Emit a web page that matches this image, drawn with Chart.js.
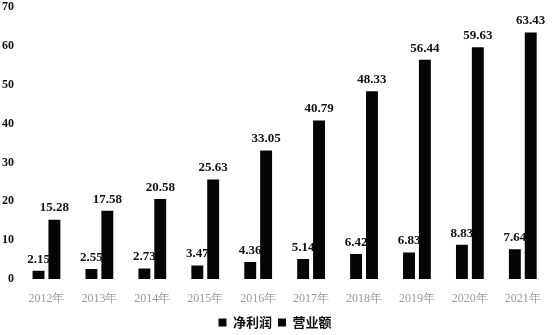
<!DOCTYPE html>
<html><head><meta charset="utf-8">
<script src="https://cdn.jsdelivr.net/npm/chart.js@4/dist/chart.umd.min.js"></script>
<style>html,body{margin:0;padding:0;background:#fff}#wrap{width:554px;height:335px}</style>
</head><body><div id="wrap"><canvas id="c"></canvas></div>
<script>
const categories = ["2012年","2013年","2014年","2015年","2016年","2017年","2018年","2019年","2020年","2021年"];
const netProfit = [2.15, 2.55, 2.73, 3.47, 4.36, 5.14, 6.42, 6.83, 8.83, 7.64];
const revenue = [15.28, 17.58, 20.58, 25.63, 33.05, 40.79, 48.33, 56.44, 59.63, 63.43];
const seriesNames = ["净利润", "营业额"];
const yTicks = [0, 10, 20, 30, 40, 50, 60, 70];

const labelPlugin = {
  id: 'barLabels',
  afterDatasetsDraw(chart) {
    const ctx = chart.ctx;
    ctx.save();
    ctx.font = 'bold 13px "Liberation Serif", "Times New Roman", serif';
    ctx.fillStyle = '#111';
    ctx.textAlign = 'center';
    ctx.textBaseline = 'bottom';
    chart.data.datasets.forEach((ds, i) => {
      chart.getDatasetMeta(i).data.forEach((bar, j) => {
        ctx.fillText(ds.data[j].toFixed(2), bar.x, bar.y - 5);
      });
    });
    ctx.restore();
  }
};

new Chart(document.getElementById('c'), {
  type: 'bar',
  data: {
    labels: categories,
    datasets: [
      { label: seriesNames[0], data: netProfit, backgroundColor: '#050505', barPercentage: 0.75, categoryPercentage: 0.6 },
      { label: seriesNames[1], data: revenue, backgroundColor: '#050505', barPercentage: 0.75, categoryPercentage: 0.6 }
    ]
  },
  options: {
    responsive: true,
    maintainAspectRatio: false,
    animation: false,
    layout: { padding: { top: 7, right: 4, left: 0, bottom: -4 } },
    plugins: {
      tooltip: { enabled: false },
      legend: {
        position: 'bottom',
        labels: {
          boxWidth: 8, boxHeight: 8, padding: 6,
          color: '#111',
          font: { family: '"Noto Sans CJK SC", sans-serif', size: 13, weight: 'bold' }
        }
      }
    },
    scales: {
      x: {
        afterFit(s) { s.height = 31; },
        grid: { display: false, drawTicks: false }, border: { display: false },
        ticks: { color: '#999', font: { family: '"Liberation Serif", serif', size: 12 }, padding: 13, maxRotation: 0 }
      },
      y: {
        min: 0, max: 70,
        afterBuildTicks(s) { s.ticks = yTicks.map(v => ({ value: v })); },
        afterFit(s) { s.width = 20; s.paddingTop = 0; s.paddingBottom = 0; },
        grid: { display: false, drawTicks: false }, border: { display: false },
        ticks: { color: '#111', padding: 6, font: { family: '"Liberation Serif", serif', size: 12, weight: 'bold' } }
      }
    }
  },
  plugins: [labelPlugin]
});
</script></body></html>
